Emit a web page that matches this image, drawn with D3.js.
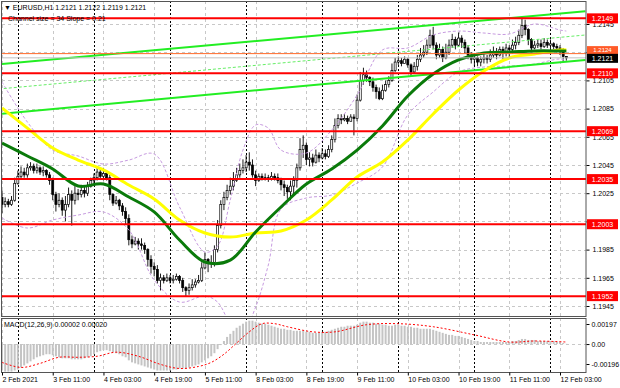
<!DOCTYPE html>
<html>
<head>
<meta charset="utf-8">
<script src="https://cdn.jsdelivr.net/npm/d3@7"></script>
<style>
  body { margin: 0; background: #fff; }
  svg { display: block; font-family: "Liberation Sans", Arial, sans-serif; }
</style>
</head>
<body>
<svg id="chart" width="620" height="388"></svg>
<script>
// EURUSD H1, bar 0 = 2 Feb 19:00
const firstOpen = 1.2022;
const closes = [
  1.2017,1.2019,1.2017,1.2020,1.2032,1.2037,1.2040,1.2038,1.2043,1.2044,
  1.2041,1.2043,1.2040,1.2041,1.2038,1.2034,1.2024,1.2017,1.2020,1.2013,
  1.2017,1.2024,1.2020,1.2025,1.2024,1.2027,1.2025,1.2030,1.2034,1.2036,
  1.2040,1.2037,1.2039,1.2036,1.2024,1.2018,1.2020,1.2016,1.2012,1.2007,
  1.1992,1.1989,1.1991,1.1989,1.1988,1.1985,1.1978,1.1973,1.1971,1.1963,
  1.1965,1.1963,1.1965,1.1963,1.1964,1.1966,1.1963,1.1958,1.1956,1.1958,
  1.1960,1.1962,1.1963,1.1972,1.1978,1.1975,1.1976,1.1985,1.2002,1.2017,
  1.2022,1.2027,1.2030,1.2034,1.2038,1.2041,1.2043,1.2047,1.2045,1.2038,
  1.2034,1.2037,1.2036,1.2036,1.2035,1.2037,1.2036,1.2034,1.2031,1.2029,
  1.2026,1.2030,1.2034,1.2043,1.2056,1.2059,1.2049,1.2050,1.2047,1.2052,
  1.2050,1.2053,1.2051,1.2056,1.2063,1.2073,1.2078,1.2077,1.2078,1.2076,
  1.2079,1.2078,1.2091,1.2105,1.2109,1.2107,1.2104,1.2100,1.2097,1.2092,
  1.2098,1.2102,1.2105,1.2112,1.2118,1.2119,1.2117,1.2120,1.2116,1.2111,
  1.2115,1.2120,1.2123,1.2125,1.2130,1.2137,1.2130,1.2123,1.2127,1.2121,
  1.2125,1.2130,1.2134,1.2130,1.2135,1.2132,1.2128,1.2123,1.2120,1.2121,
  1.2118,1.2120,1.2121,1.2120,1.2123,1.2125,1.2123,1.2127,1.2124,1.2128,
  1.2127,1.2130,1.2132,1.2137,1.2144,1.2141,1.2134,1.2128,1.2130,1.2131,
  1.2129,1.2132,1.2130,1.2131,1.2129,1.2128,1.2127,1.2122,1.2121
];
const highs = [
  1.2027,1.2022,1.2021,1.2023,1.2036,1.2041,1.2044,1.2043,1.2046,1.2047,
  1.2046,1.2046,1.2044,1.2044,1.2042,1.2040,1.2036,1.2026,1.2025,1.2022,
  1.2023,1.2029,1.2027,1.2030,1.2028,1.2031,1.2030,1.2033,1.2036,1.2039,
  1.2044,1.2042,1.2043,1.2041,1.2038,1.2025,1.2023,1.2021,1.2018,1.2015,
  1.2010,1.1995,1.1994,1.1993,1.1993,1.1990,1.1986,1.1981,1.1976,1.1974,
  1.1968,1.1967,1.1968,1.1967,1.1967,1.1968,1.1967,1.1965,1.1959,1.1961,
  1.1964,1.1964,1.1967,1.1976,1.1983,1.1979,1.1981,1.1988,1.2006,1.2020,
  1.2026,1.2031,1.2036,1.2040,1.2043,1.2046,1.2049,1.2052,1.2054,1.2049,
  1.2041,1.2039,1.2039,1.2039,1.2038,1.2040,1.2039,1.2039,1.2036,1.2034,
  1.2031,1.2034,1.2037,1.2046,1.2064,1.2066,1.2061,1.2054,1.2053,1.2056,
  1.2054,1.2057,1.2056,1.2059,1.2066,1.2078,1.2081,1.2081,1.2081,1.2080,
  1.2081,1.2081,1.2095,1.2111,1.2114,1.2112,1.2108,1.2107,1.2102,1.2100,
  1.2102,1.2105,1.2108,1.2117,1.2121,1.2122,1.2121,1.2122,1.2121,1.2117,
  1.2118,1.2123,1.2128,1.2130,1.2134,1.2141,1.2143,1.2132,1.2131,1.2129,
  1.2131,1.2134,1.2138,1.2136,1.2139,1.2137,1.2134,1.2130,1.2125,1.2123,
  1.2122,1.2122,1.2124,1.2123,1.2127,1.2129,1.2128,1.2129,1.2129,1.2131,
  1.2130,1.2134,1.2136,1.2141,1.2150,1.2148,1.2142,1.2135,1.2133,1.2134,
  1.2134,1.2135,1.2134,1.2134,1.2132,1.2131,1.2130,1.2128,1.2122
];
const lows = [
  1.2011,1.2015,1.2015,1.2016,1.2019,1.2031,1.2035,1.2036,1.2036,1.2041,
  1.2039,1.2039,1.2038,1.2037,1.2036,1.2031,1.2020,1.2012,1.2015,1.2009,
  1.2005,1.2015,1.2002,1.2017,1.2020,1.2022,1.2022,1.2023,1.2029,1.2031,
  1.2034,1.2035,1.2034,1.2034,1.2020,1.2016,1.2017,1.2013,1.2009,1.2003,
  1.1988,1.1986,1.1988,1.1985,1.1985,1.1982,1.1973,1.1968,1.1966,1.1961,
  1.1956,1.1961,1.1962,1.1961,1.1961,1.1963,1.1961,1.1955,1.1952,1.1953,
  1.1956,1.1958,1.1961,1.1962,1.1971,1.1969,1.1972,1.1973,1.1983,1.2000,
  1.2013,1.2020,1.2024,1.2027,1.2033,1.2036,1.2039,1.2040,1.2041,1.2036,
  1.2030,1.2033,1.2034,1.2034,1.2033,1.2034,1.2034,1.2032,1.2027,1.2023,
  1.2021,1.2020,1.2024,1.2029,1.2041,1.2050,1.2045,1.2044,1.2044,1.2046,
  1.2047,1.2049,1.2049,1.2050,1.2054,1.2061,1.2071,1.2074,1.2076,1.2074,
  1.2076,1.2066,1.2076,1.2090,1.2102,1.2104,1.2101,1.2097,1.2092,1.2091,
  1.2091,1.2097,1.2100,1.2104,1.2111,1.2116,1.2115,1.2117,1.2114,1.2108,
  1.2110,1.2112,1.2118,1.2121,1.2123,1.2128,1.2127,1.2120,1.2121,1.2118,
  1.2120,1.2123,1.2128,1.2127,1.2129,1.2128,1.2124,1.2120,1.2117,1.2115,
  1.2115,1.2115,1.2117,1.2117,1.2118,1.2121,1.2120,1.2122,1.2120,1.2122,
  1.2121,1.2124,1.2127,1.2130,1.2135,1.2137,1.2130,1.2125,1.2127,1.2128,
  1.2127,1.2128,1.2128,1.2127,1.2127,1.2125,1.2123,1.2118,1.2119
];

// moving averages, read every 8 bars
const maBars = [0,8,16,24,32,40,48,56,64,72,80,88,96,104,112,120,128,136,144,152,160,168,176,178];
const maGreen = [1.20606,1.20514,1.20422,1.20301,1.20315,1.20223,1.20117,1.19918,1.19762,1.19776,1.19975,1.20152,
  1.20315,1.20422,1.20556,1.20727,1.20939,1.21095,1.21195,1.21244,1.21251,1.21259,1.21259,1.21259];
const maYellow = [1.20854,1.20712,1.20571,1.20485,1.20415,1.20308,1.20209,1.20060,1.19968,1.19939,1.19968,1.19982,
  1.20060,1.20202,1.20365,1.20471,1.20627,1.20812,1.20982,1.21117,1.21209,1.21237,1.21266,1.21266];

// bollinger bands
const bandBars = [0,8,16,24,32,40,48,56,64,68,72,76,80,84,88,96,104,112,120,128,136,144,152,160,168,176,178];
const bandUpper = [1.21039,1.20755,1.20556,1.20514,1.20457,1.20485,1.20528,1.20152,1.19833,1.19876,1.20202,1.20556,1.20734,
  1.20712,1.20556,1.20535,1.20698,1.20946,1.21266,1.21280,1.21372,1.21400,1.21386,1.21379,1.21450,1.21407,1.21400];
const bandLower = [1.20074,1.20003,1.20060,1.20095,1.20117,1.19989,1.19634,1.19478,1.19521,1.19478,1.19329,1.19266,1.19443,
  1.19741,1.20138,1.20216,1.20237,1.20322,1.20436,1.20805,1.20968,1.21110,1.21145,1.21152,1.21166,1.21202,1.21188];

// regression channel (ends)
const channelBars = [-1, 184];
const channelUpper = [1.21165, 1.21540];
const channelMid = [1.20989, 1.21372];
const channelLower = [1.20812, 1.21195];

const levels = [1.2149, 1.2110, 1.2069, 1.2035, 1.2003, 1.1952];
const askPrice = 1.2124;
const bidPrice = 1.2121;

const priceTicks = [1.2145,1.2125,1.2105,1.2085,1.2065,1.2045,1.2025,1.2005,1.1985,1.1965,1.1945];
const hiddenTicks = [1.2125, 1.2005]; // covered by price boxes in the terminal
const labelBars = [0,16,32,48,64,80,96,112,128,144,160,176];
const timeLabels = ["2 Feb 2021","3 Feb 11:00","4 Feb 03:00","4 Feb 19:00","5 Feb 11:00","8 Feb 03:00",
  "8 Feb 19:00","9 Feb 11:00","10 Feb 03:00","10 Feb 19:00","11 Feb 11:00","12 Feb 03:00"];
const dayStarts = [5,29,53,77,101,125,149,173];

// MACD histogram (main) per bar
const macdMain = [
  -0.0026,-0.0027,-0.0027,-0.0027,-0.0026,-0.0025,-0.0023,-0.0021,-0.0019,-0.0017,
  -0.0015,-0.0013,-0.0012,-0.0011,-0.0010,-0.0010,-0.0011,-0.0012,-0.0013,-0.0014,
  -0.0014,-0.0014,-0.0015,-0.0015,-0.0015,-0.0015,-0.0014,-0.0013,-0.0012,-0.0010,
  -0.0008,-0.0007,-0.0006,-0.0006,-0.0007,-0.0008,-0.0009,-0.0010,-0.0012,-0.0013,
  -0.0016,-0.0018,-0.0019,-0.0020,-0.0021,-0.0022,-0.0023,-0.0024,-0.0025,-0.0026,
  -0.0026,-0.0026,-0.0026,-0.0026,-0.0025,-0.0025,-0.0024,-0.0024,-0.0024,-0.0023,
  -0.0022,-0.0021,-0.0020,-0.0018,-0.0016,-0.0014,-0.0012,-0.0009,-0.0005,-0.0001,
  0.0003,0.0007,0.0010,0.0013,0.0016,0.0018,0.0020,0.0022,0.0023,0.0023,
  0.0022,0.0021,0.0020,0.0020,0.0019,0.0018,0.0017,0.0016,0.0015,0.0015,
  0.0014,0.0014,0.0013,0.0013,0.0013,0.0013,0.0012,0.0012,0.0011,0.0011,
  0.0011,0.0012,0.0012,0.0013,0.0014,0.0015,0.0016,0.0017,0.0017,0.0018,
  0.0018,0.0018,0.0019,0.0021,0.0022,0.0022,0.0021,0.0021,0.0020,0.0020,
  0.0019,0.0019,0.0018,0.0018,0.0019,0.0019,0.0018,0.0018,0.0017,0.0017,
  0.0016,0.0016,0.0015,0.0015,0.0015,0.0015,0.0014,0.0013,0.0012,0.0011,
  0.0010,0.0009,0.0009,0.0008,0.0008,0.0007,0.0006,0.0005,0.0004,0.0003,
  0.0003,0.0002,0.0002,0.0002,0.0002,0.0002,0.0002,0.0002,0.0002,0.0002,
  0.0002,0.0003,0.0003,0.0004,0.0005,0.0005,0.0004,0.0004,0.0004,0.0003,
  0.0003,0.0003,0.0003,0.0003,0.0003,0.0002,0.0002,0.0001,0.00002
];
const sigBars = [0,6,12,18,24,30,36,43,50,56,62,66,70,74,78,82,86,90,98,105,115,125,136,149,160,168,178];
const sigVals = [-0.0018,-0.0023,-0.0019,-0.0013,-0.0013,-0.0012,-0.0008,-0.0012,-0.0020,-0.0024,-0.0022,-0.0018,-0.0010,
  0.0001,0.0012,0.0020,0.0020,0.0017,0.0012,0.0012,0.0019,0.0020,0.0017,0.0009,0.0002,0.0003,0.0002];
const macdTicks = [0.00197, 0, -0.00196];
const macdTickText = ["0.00197", "0.00", "-0.00196"];

// ---- layout
const svg = d3.select("#chart");
const left = 2, right = 586;
const mainTop = 1, mainBottom = 316, macdTop = 318, macdBottom = 372;

const x = d3.scaleLinear().domain([0, 176]).range([2, 560]);
const y = d3.scaleLinear().domain([1.1945, 1.2145]).range([306, 24]);
const ym = d3.scaleLinear().domain([-0.00196, 0.00197]).range([364, 324]);

svg.append("rect").attr("width", 620).attr("height", 388).attr("fill", "#fff");

const defs = svg.append("defs");
defs.append("clipPath").attr("id", "clipMain").append("rect")
  .attr("x", left).attr("y", mainTop).attr("width", right - left).attr("height", mainBottom - mainTop);
defs.append("clipPath").attr("id", "clipMacd").append("rect")
  .attr("x", left).attr("y", macdTop).attr("width", right - left).attr("height", macdBottom - macdTop);

const gMain = svg.append("g").attr("clip-path", "url(#clipMain)");
const gMacd = svg.append("g").attr("clip-path", "url(#clipMacd)");

// grid
const crisp = v => Math.round(v) + 0.5;
gMain.selectAll("line.hgrid").data(priceTicks).join("line")
  .attr("x1", left).attr("x2", right)
  .attr("y1", d => crisp(y(d))).attr("y2", d => crisp(y(d)))
  .attr("stroke", "#c8c8c8").attr("stroke-dasharray", "3,3");
[gMain, gMacd].forEach((g, k) => {
  const t = k === 0 ? mainTop : macdTop, b = k === 0 ? mainBottom : macdBottom;
  g.selectAll("line.vgrid").data(labelBars).join("line")
    .attr("x1", d => crisp(x(d))).attr("x2", d => crisp(x(d)))
    .attr("y1", t).attr("y2", b)
    .attr("stroke", "#c8c8c8").attr("stroke-dasharray", "3,3");
  g.selectAll("line.sep").data(dayStarts).join("line")
    .attr("x1", d => crisp(x(d))).attr("x2", d => crisp(x(d)))
    .attr("y1", t).attr("y2", b)
    .attr("stroke", "#000").attr("stroke-dasharray", "2,2");
});
gMacd.append("line")
  .attr("x1", left).attr("x2", right).attr("y1", crisp(ym(0))).attr("y2", crisp(ym(0)))
  .attr("stroke", "#c8c8c8").attr("stroke-dasharray", "3,3");

// candles
const opens = closes.map((c, i) => i === 0 ? firstOpen : closes[i - 1]);
const bars = d3.range(closes.length);
gMain.selectAll("line.wick").data(bars).join("line")
  .attr("x1", i => x(i)).attr("x2", i => x(i))
  .attr("y1", i => y(highs[i])).attr("y2", i => y(lows[i]))
  .attr("stroke", "#000").attr("stroke-width", 0.9);
gMain.selectAll("rect.body").data(bars).join("rect")
  .attr("x", i => x(i) - 1)
  .attr("width", 2)
  .attr("y", i => y(Math.max(opens[i], closes[i])))
  .attr("height", i => Math.max(1, Math.abs(y(opens[i]) - y(closes[i]))))
  .attr("fill", i => closes[i] > opens[i] ? "#fff" : "#000")
  .attr("stroke", "#000").attr("stroke-width", 0.7);

// bollinger bands
const bandLine = vals => d3.line()
  .x((d, i) => x(bandBars[i])).y(d => y(d)).curve(d3.curveCatmullRom)(vals);
[bandUpper, bandLower].forEach(vals => {
  gMain.append("path").attr("d", bandLine(vals))
    .attr("fill", "none").attr("stroke", "#c79be0").attr("stroke-width", 1)
    .attr("stroke-dasharray", "3,2");
});

// channel
const chLine = vals => d3.line().x((d, i) => x(channelBars[i])).y(d => y(d))(vals);
gMain.append("path").attr("d", chLine(channelMid))
  .attr("fill", "none").attr("stroke", "#66ee66").attr("stroke-width", 1).attr("stroke-dasharray", "3,2");
[channelUpper, channelLower].forEach(vals => {
  gMain.append("path").attr("d", chLine(vals))
    .attr("fill", "none").attr("stroke", "#22ee22").attr("stroke-width", 2);
});

// moving averages
const maLine = vals => d3.line()
  .x((d, i) => x(maBars[i])).y(d => y(d)).curve(d3.curveCatmullRom)(vals);
gMain.append("path").attr("d", maLine(maYellow))
  .attr("fill", "none").attr("stroke", "#ffff00").attr("stroke-width", 3);
gMain.append("path").attr("d", maLine(maGreen))
  .attr("fill", "none").attr("stroke", "#0a7a0a").attr("stroke-width", 3);

// header texts
svg.append("text").attr("x", 4).attr("y", 10).attr("font-size", 7).attr("fill", "#000")
  .text("\u25BC EURUSD,H1  1.2121 1.2122 1.2119 1.2121");
svg.append("text").attr("x", 8).attr("y", 21).attr("font-size", 7).attr("fill", "#000")
  .text("Channel size = 34 Slope = 0.21");

// horizontal levels
gMain.selectAll("line.level").data(levels).join("line")
  .attr("x1", left).attr("x2", right)
  .attr("y1", d => y(d)).attr("y2", d => y(d))
  .attr("stroke", "#ff0000").attr("stroke-width", 2);
gMain.append("line").attr("x1", left).attr("x2", right)
  .attr("y1", y(askPrice)).attr("y2", y(askPrice)).attr("stroke", "#ff6a2a").attr("stroke-width", 1);
gMain.append("line").attr("x1", left).attr("x2", right)
  .attr("y1", y(bidPrice)).attr("y2", y(bidPrice)).attr("stroke", "#c0c0c0").attr("stroke-width", 1);

// MACD
gMacd.selectAll("rect.hist").data(bars).join("rect")
  .attr("x", i => x(i) - 1).attr("width", 2)
  .attr("y", i => Math.min(ym(0), ym(macdMain[i])))
  .attr("height", i => Math.abs(ym(macdMain[i]) - ym(0)))
  .attr("fill", "#c4c4c4");
gMacd.append("path")
  .attr("d", d3.line().x((d, i) => x(sigBars[i])).y(d => ym(d)).curve(d3.curveCatmullRom)(sigVals))
  .attr("fill", "none").attr("stroke", "#ff0000").attr("stroke-width", 1).attr("stroke-dasharray", "2,2");
svg.append("text").attr("x", 4).attr("y", 327).attr("font-size", 7).attr("fill", "#000")
  .text("MACD(12,26,9) 0.00002 0.00020");

// frames
svg.append("rect").attr("x", 1.5).attr("y", mainTop + 0.5).attr("width", right - 1.5).attr("height", mainBottom - mainTop)
  .attr("fill", "none").attr("stroke", "#555");
svg.append("rect").attr("x", 1.5).attr("y", macdTop + 0.5).attr("width", right - 1.5).attr("height", macdBottom - macdTop)
  .attr("fill", "none").attr("stroke", "#555");

// price axis
const yAxis = svg.append("g").attr("transform", `translate(${right + 0.5},0)`)
  .call(d3.axisRight(y).tickValues(priceTicks)
    .tickFormat(d => hiddenTicks.includes(d) ? "" : d3.format(".4f")(d)).tickSize(3).tickPadding(3));
yAxis.select(".domain").remove();
yAxis.selectAll("text").attr("font-size", 7).attr("font-family", "Liberation Sans, Arial, sans-serif").attr("fill", "#000");

const mAxis = svg.append("g").attr("transform", `translate(${right + 0.5},0)`)
  .call(d3.axisRight(ym).tickValues(macdTicks).tickFormat((d, i) => macdTickText[i]).tickSize(3).tickPadding(2));
mAxis.select(".domain").remove();
mAxis.selectAll("text").attr("font-size", 7).attr("font-family", "Liberation Sans, Arial, sans-serif").attr("fill", "#000");

// time axis
const xAxis = svg.append("g").attr("transform", `translate(0,${macdBottom + 0.5})`)
  .call(d3.axisBottom(x).tickValues(labelBars).tickFormat((d, i) => timeLabels[i]).tickSize(3).tickPadding(2));
xAxis.select(".domain").remove();
xAxis.selectAll("text").attr("font-size", 7).attr("font-family", "Liberation Sans, Arial, sans-serif")
  .attr("fill", "#000").attr("text-anchor", "start").attr("dx", 0);

// price boxes
function priceBox(v, fill) {
  const g = svg.append("g");
  g.append("rect").attr("x", right + 1).attr("y", y(v) - 5).attr("width", 31).attr("height", 10).attr("fill", fill);
  g.append("text").attr("x", right + 16.5).attr("y", y(v) + 2.5).attr("text-anchor", "middle")
    .attr("font-size", 7).attr("fill", "#fff").text(d3.format(".4f")(v));
}
levels.forEach(v => priceBox(v, "#ff0000"));

// ask box sits just above the bid box, which covers its lower edge
const askG = svg.append("g");
askG.append("rect").attr("x", right + 1).attr("y", y(askPrice) - 7.5).attr("width", 31).attr("height", 8)
  .attr("fill", "#ff5a28");
askG.append("text").attr("x", right + 16.5).attr("y", y(askPrice) - 1.6).attr("text-anchor", "middle")
  .attr("font-size", 6).attr("fill", "#fff").text(d3.format(".4f")(askPrice));
const bidG = svg.append("g");
bidG.append("rect").attr("x", right + 1).attr("y", y(bidPrice) - 4).attr("width", 31).attr("height", 9).attr("fill", "#000");
bidG.append("text").attr("x", right + 16.5).attr("y", y(bidPrice) + 3).attr("text-anchor", "middle")
  .attr("font-size", 7).attr("fill", "#fff").text(d3.format(".4f")(bidPrice));
</script>
</body>
</html>
